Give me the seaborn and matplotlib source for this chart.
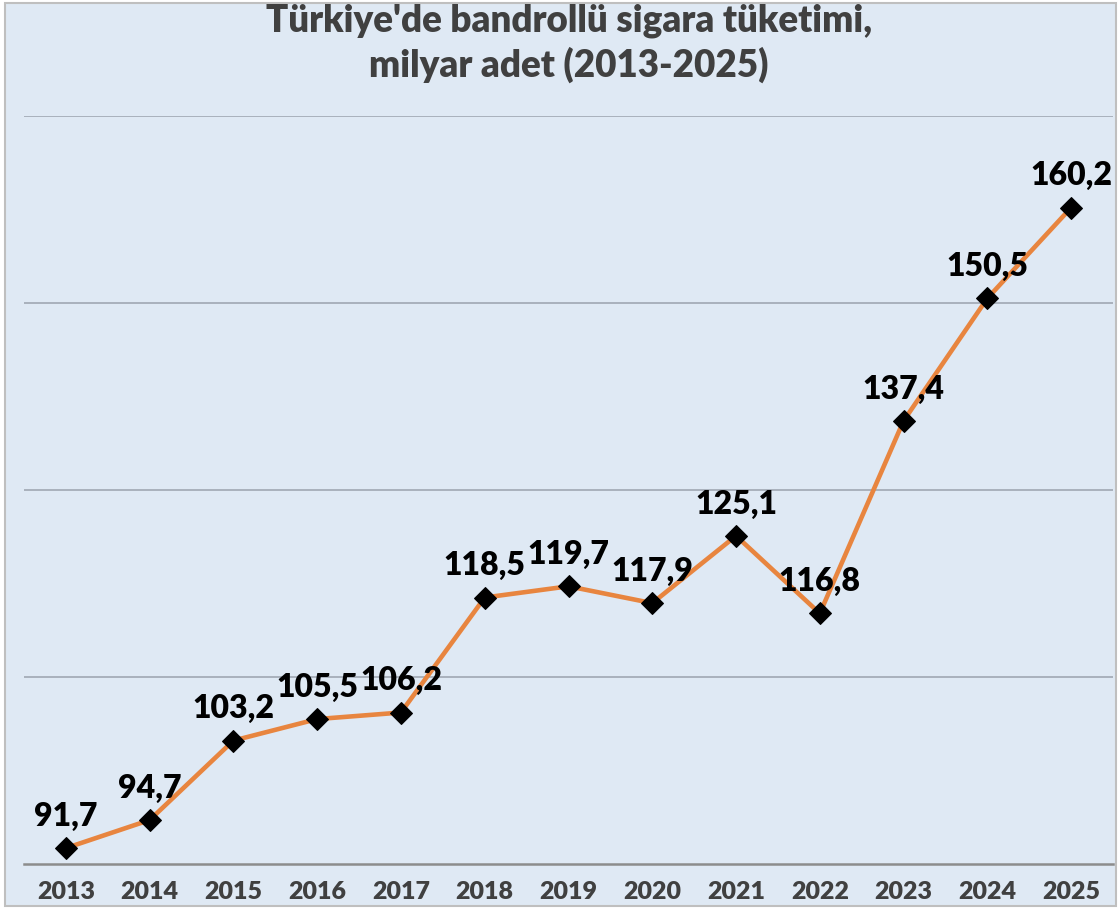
import pandas as pd
import seaborn as sns
import matplotlib.pyplot as plt
from matplotlib.patches import Rectangle

# veriler
yillar = ["2013", "2014", "2015", "2016", "2017", "2018", "2019",
          "2020", "2021", "2022", "2023", "2024", "2025"]
tuketim = [91.7, 94.7, 103.2, 105.5, 106.2, 118.5, 119.7,
           117.9, 125.1, 116.8, 137.4, 150.5, 160.2]
y_izgara = [90, 110, 130, 150, 170]

df = pd.DataFrame({"yil": yillar, "deger": tuketim})

sns.set_style("white")
plt.rcParams["font.family"] = ["Lato", "DejaVu Sans"]
plt.rcParams["font.weight"] = "bold"

fig = plt.figure(figsize=(11.2, 9.16), dpi=100, facecolor="white")

# arka plan ve çerçeve (eksenlerin arkasında)
arka = Rectangle((5 / 1120, 1 - 906 / 916), 1111 / 1120, 903 / 916,
                 transform=fig.transFigure, facecolor="#DFE9F4",
                 edgecolor="#BFBFBF", linewidth=1.5, zorder=-10)
fig.add_artist(arka)

ax = fig.add_axes([24 / 1120, 1 - 864 / 916, (1113 - 24) / 1120, (864 - 116) / 916])
ax.set_facecolor("none")
ax.set_zorder(5)

sns.lineplot(data=df, x="yil", y="deger", ax=ax, color="#E8853F", linewidth=3.3,
             marker="D", markersize=11, markerfacecolor="black",
             markeredgecolor="black", sort=False, zorder=3)

for i, v in enumerate(tuketim):
    ax.annotate(f"{v:.1f}".replace(".", ","), (i, v), xytext=(0, 16),
                textcoords="offset points", ha="center", va="baseline",
                fontsize=23, fontweight="heavy", color="black", zorder=4)

ax.set_xlim(-0.5, len(yillar) - 0.5)
ax.set_ylim(90, 170)
ax.set_yticks(y_izgara)
ax.set_yticklabels([])
for g in y_izgara[1:]:
    ax.axhline(g, color="#A9B1BC", linewidth=1.4, zorder=1)
ax.tick_params(axis="y", length=0)
ax.tick_params(axis="x", length=0, pad=12, labelsize=18, labelcolor="#404040")
for t in ax.get_xticklabels():
    t.set_fontweight("heavy")

for s in ["top", "left", "right"]:
    ax.spines[s].set_visible(False)
ax.spines["bottom"].set_color("#8C8C8C")
ax.spines["bottom"].set_linewidth(1.8)

ax.set_xlabel("")
ax.set_ylabel("")

fig.text(0.508, 1 - 32 / 916, "Türkiye'de bandrollü sigara tüketimi,", ha="center",
         va="baseline", fontsize=26.5, fontweight="heavy", color="#404040")
fig.text(0.508, 1 - 77 / 916, "milyar adet (2013-2025)", ha="center",
         va="baseline", fontsize=26.5, fontweight="heavy", color="#404040")

fig.savefig("out.png", dpi=100, facecolor="white")
